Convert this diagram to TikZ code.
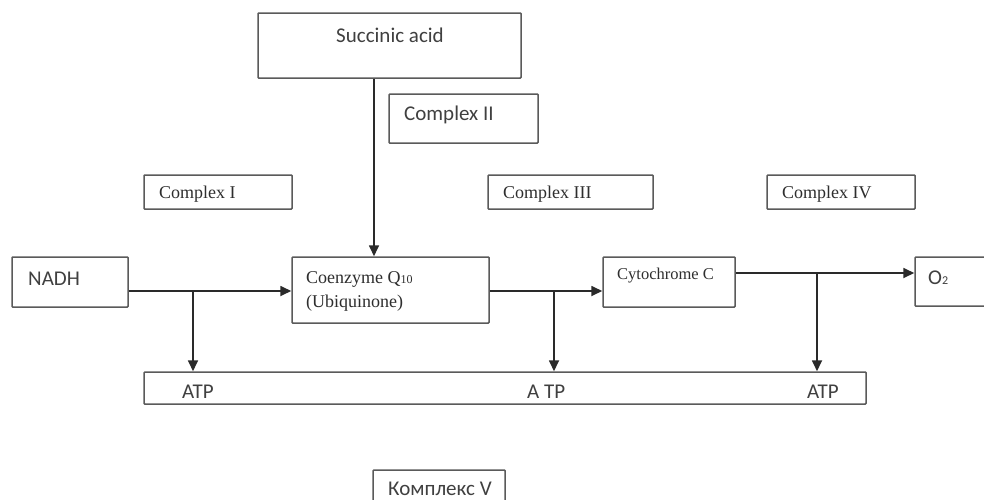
\documentclass[tikz,border=0pt]{standalone}
\usepackage{fontspec}
\setmainfont{Liberation Serif}
\newfontfamily\calfont{Carlito}
\usetikzlibrary{arrows.meta,fit}
\definecolor{boxc}{HTML}{5A5A5A}
\definecolor{linec}{HTML}{2A2A2A}
\definecolor{txts}{HTML}{404040}
\definecolor{txtr}{HTML}{2E2E2E}
\tikzset{
  box/.style={draw=boxc, line width=1.5pt, inner sep=0pt, rounded corners=0.8pt},
  arr/.style={draw=linec, line width=1.7pt, -{Triangle[length=11pt,width=10pt]}},
  sanstxt/.style={font=\calfont\fontsize{21}{24}\selectfont, text=txts, inner sep=0pt, anchor=west},
  seriftxt/.style={font=\fontsize{18}{21}\selectfont, text=txtr, inner sep=0pt, anchor=west},
}
\begin{document}
\begin{tikzpicture}[x=1pt,y=-1pt]
\useasboundingbox (0,0) rectangle (984,499);
\clip (0,0) rectangle (984,499);
\fill[white] (0,0) rectangle (984,499);
% boxes
\node[box, fit={(258,13) (521,78)}] (succ) {};
\node[box, fit={(389,94) (538,143)}] (c2) {};
\node[box, fit={(144,175) (292,209)}] (c1) {};
\node[box, fit={(488,175) (653,209)}] (c3) {};
\node[box, fit={(767,175) (915,209)}] (c4) {};
\node[box, fit={(12,257) (128,307)}] (nadh) {};
\node[box, fit={(292,257) (489,323)}] (coenz) {};
\node[box, fit={(603,257) (735,307)}] (cyto) {};
\node[box, fit={(915,257) (1010,306)}] (o2) {};
\node[box, fit={(144,372) (866,404)}] (atp) {};
\node[box, fit={(373,470) (505,520)}] (c5) {};
% texts
\node[sanstxt, anchor=center] (tsucc) at (390,35) {Succinic acid};
\node[sanstxt] (tc2) at (404,115) {Complex II};
\node[seriftxt] (tc1) at (159,194) {Complex I};
\node[seriftxt] (tc3) at (503,194) {Complex III};
\node[seriftxt] (tc4) at (782,194) {Complex IV};
\node[sanstxt] (tnadh) at (28,279) {NADH};
\node[seriftxt] (tco1) at (306,279) {Coenzyme Q{\fontsize{12}{12}\selectfont 10}};
\node[seriftxt] (tco2) at (306,303) {(Ubiquinone)};
\node[seriftxt, font=\fontsize{16.5}{19}\selectfont] (tcyto) at (617,276) {Cytochrome C};
\node[sanstxt] (to2) at (928,278) {O{\fontsize{12}{12}\selectfont 2}};
\node[sanstxt] (tatp1) at (182,392) {ATP};
\node[sanstxt] (tatp2) at (527,392) {A TP};
\node[sanstxt] (tatp3) at (807,392) {ATP};
\node[sanstxt] (tc5) at (388,489) {Комплекс V};
% helper coordinates
\coordinate (sx) at (374,0);
\coordinate (ya) at (0,291);
\coordinate (yb) at (0,273);
\coordinate (b1) at (193,291);
\coordinate (b2) at (554,291);
\coordinate (b3) at (817,273);
% connectors
\draw[arr] (succ.south -| sx) -- (coenz.north -| sx);
\draw[arr] (nadh.east |- ya) -- (coenz.west |- ya);
\draw[arr] (coenz.east |- ya) -- (cyto.west |- ya);
\draw[arr] (cyto.east |- yb) -- (o2.west |- yb);
\draw[arr] (b1) -- (b1 |- atp.north);
\draw[arr] (b2) -- (b2 |- atp.north);
\draw[arr] (b3) -- (b3 |- atp.north);
\end{tikzpicture}
\end{document}
